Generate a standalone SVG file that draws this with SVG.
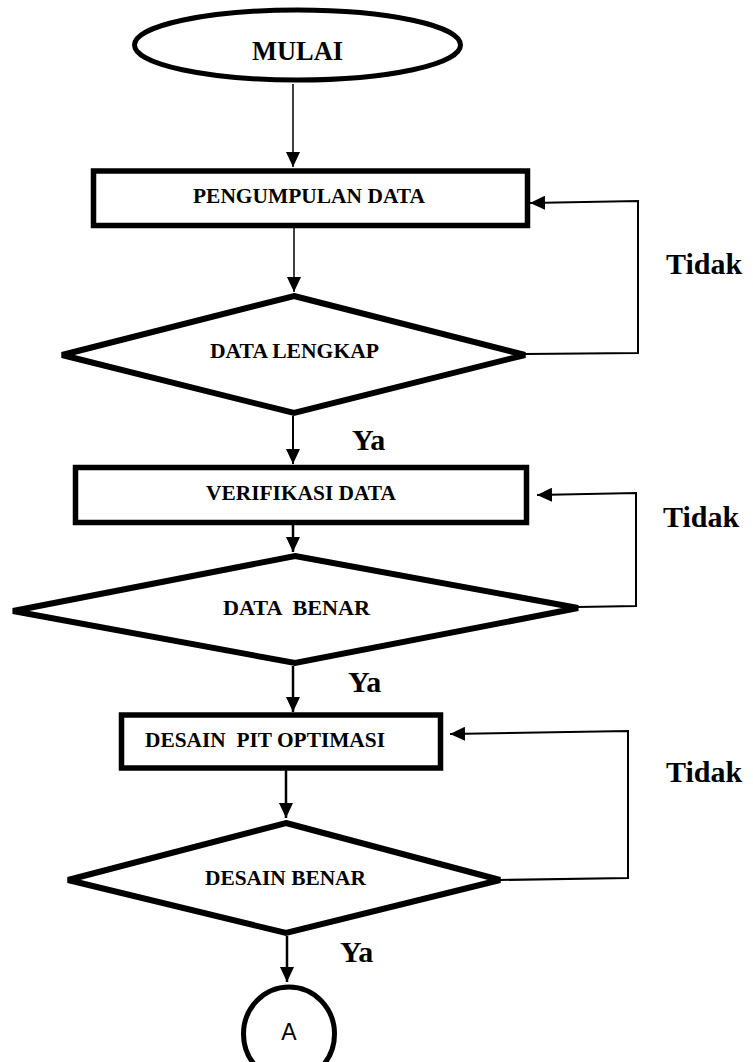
<svg xmlns="http://www.w3.org/2000/svg" width="753" height="1062" viewBox="0 0 753 1062">
<style>
.shape{fill:#fff;stroke:#000;stroke-linejoin:miter}
.t{font-family:"Liberation Serif","Times New Roman",serif;font-weight:bold;fill:#000}
.lbl{font-family:"Liberation Serif","Times New Roman",serif;font-weight:bold;font-size:30px;fill:#000}
.c{fill:none;stroke:#000}
</style>
<defs>
<marker id="ah" viewBox="0 0 15 14" refX="15" refY="7" markerWidth="15" markerHeight="14" markerUnits="userSpaceOnUse" orient="auto">
<path d="M0,0 L15,7 L0,14 Z" fill="#000"/>
</marker>
</defs>
<g id="connectors">
<line class="c" x1="293" y1="84" x2="293" y2="167" stroke-width="1.5" marker-end="url(#ah)"/>
<line class="c" x1="294" y1="228" x2="294" y2="292" stroke-width="1.5" marker-end="url(#ah)"/>
<polyline class="c" points="525,354 638,353 638,201 530,203" stroke-width="2" marker-end="url(#ah)"/>
<line class="c" x1="293" y1="416" x2="293" y2="464" stroke-width="2" marker-end="url(#ah)"/>
<line class="c" x1="293" y1="525" x2="293" y2="552" stroke-width="2.5" marker-end="url(#ah)"/>
<polyline class="c" points="578,607 636,606 636,493 537,495" stroke-width="2" marker-end="url(#ah)"/>
<line class="c" x1="293" y1="666" x2="293" y2="712" stroke-width="2.5" marker-end="url(#ah)"/>
<line class="c" x1="286" y1="770" x2="286" y2="818" stroke-width="2.5" marker-end="url(#ah)"/>
<polyline class="c" points="500,880 628,878 628,731 450,734" stroke-width="2" marker-end="url(#ah)"/>
<line class="c" x1="287" y1="936" x2="287" y2="982" stroke-width="2.5" marker-end="url(#ah)"/>
</g>
<g id="mulai">
<ellipse class="shape" cx="297.5" cy="45" rx="163" ry="35" stroke-width="5"/>
<text class="t" x="252" y="60" font-size="27" textLength="91" lengthAdjust="spacingAndGlyphs">MULAI</text>
</g>
<g id="pengumpulan">
<rect class="shape" x="93.5" y="171" width="434" height="54.5" stroke-width="5.5"/>
<text class="t" x="193" y="203" font-size="20" textLength="232" lengthAdjust="spacingAndGlyphs">PENGUMPULAN DATA</text>
</g>
<g id="data-lengkap">
<polygon class="shape" points="294,296 525,355 294,413 62,355" stroke-width="6"/>
<text class="t" x="210" y="358" font-size="20" textLength="169" lengthAdjust="spacingAndGlyphs">DATA LENGKAP</text>
</g>
<g id="verifikasi">
<rect class="shape" x="75.5" y="467.5" width="451" height="55" stroke-width="5.5"/>
<text class="t" x="206" y="500" font-size="20" textLength="190" lengthAdjust="spacingAndGlyphs">VERIFIKASI DATA</text>
</g>
<g id="data-benar">
<polygon class="shape" points="295,556 578,608 295,663 13,611" stroke-width="6"/>
<text class="t" x="223" y="615" font-size="21" textLength="147" lengthAdjust="spacingAndGlyphs" xml:space="preserve">DATA  BENAR</text>
</g>
<g id="desain-pit">
<rect class="shape" x="121.5" y="715" width="319" height="53" stroke-width="5.5"/>
<text class="t" x="145" y="747" font-size="21" textLength="240" lengthAdjust="spacingAndGlyphs" xml:space="preserve">DESAIN  PIT OPTIMASI</text>
</g>
<g id="desain-benar">
<polygon class="shape" points="286,823 500,880 286,933 68,880" stroke-width="6"/>
<text class="t" x="205" y="885" font-size="21" textLength="161" lengthAdjust="spacingAndGlyphs">DESAIN BENAR</text>
</g>
<g id="connector-a">
<ellipse class="shape" cx="289" cy="1034" rx="45.5" ry="47" stroke-width="5"/>
<text x="289" y="1040" font-family="'Liberation Sans',Arial,sans-serif" font-size="23" text-anchor="middle" fill="#000">A</text>
</g>
<g id="labels">
<text class="lbl" x="352" y="450">Ya</text>
<text class="lbl" x="348" y="692">Ya</text>
<text class="lbl" x="340" y="962">Ya</text>
<text class="lbl" x="666" y="274">Tidak</text>
<text class="lbl" x="663" y="527">Tidak</text>
<text class="lbl" x="666" y="782">Tidak</text>
</g>
</svg>
